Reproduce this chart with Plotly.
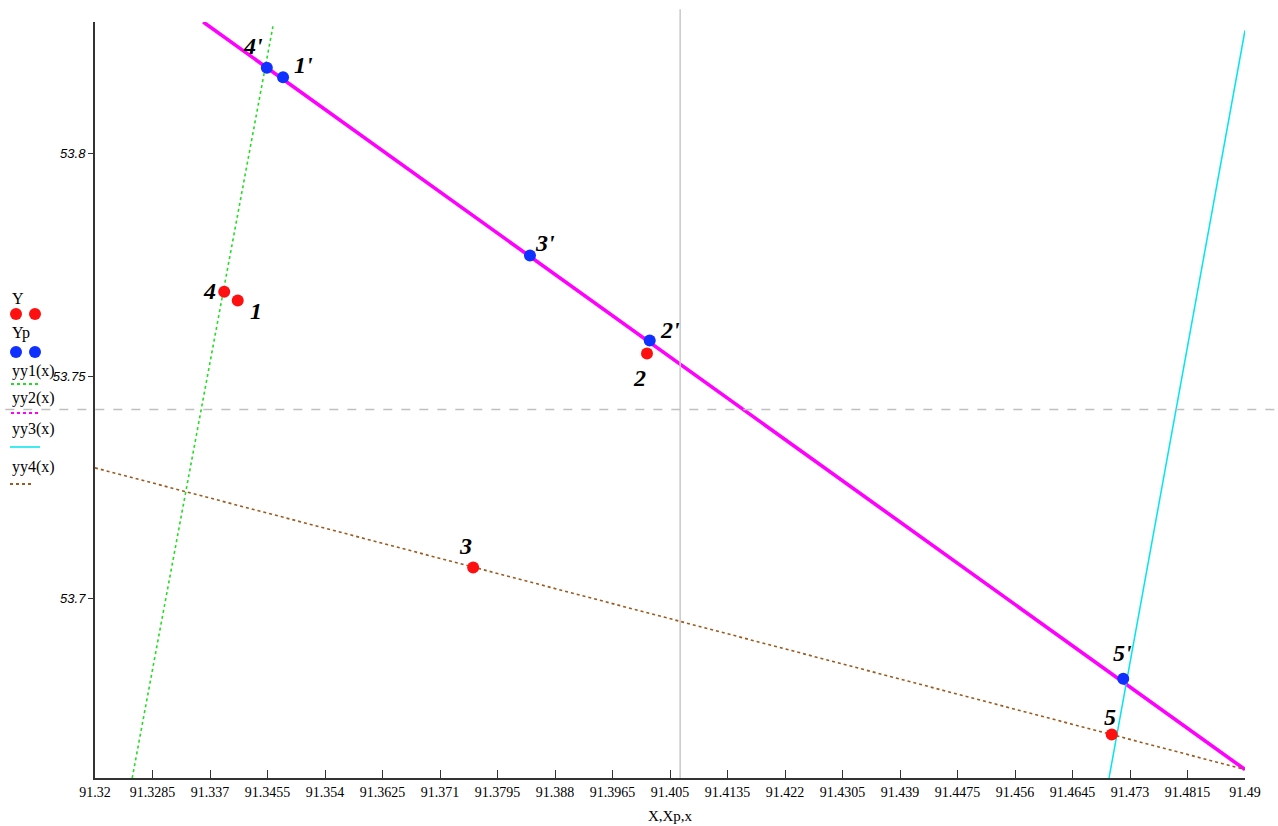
import plotly.graph_objects as go

# ---- data ----
X = [91.3411, 91.4016, 91.3759, 91.3391, 91.4703]      # measured points
Y = [53.7670, 53.7551, 53.7070, 53.7690, 53.6695]
Y_labels = ["1", "2", "3", "4", "5"]

Xp = [91.3478, 91.4020, 91.3843, 91.3454, 91.4720]     # projected points
Yp = [53.8172, 53.7580, 53.7771, 53.8193, 53.6820]
Yp_labels = ["1'", "2'", "3'", "4'", "5'"]

yy1_x = [91.3255, 91.3463]
yy1_y = [53.6597, 53.8286]
yy2_x = [91.3360, 91.4900]
yy2_y = [53.8296, 53.6616]
yy3_x = [91.4699, 91.4900]
yy3_y = [53.6597, 53.8277]
yy4_x = [91.3200, 91.4900]
yy4_y = [53.7294, 53.6616]

marker_x = 91.4065   # vertical marker line
marker_y = 53.7425   # horizontal marker line

x_range = [91.32, 91.49]
y_range = [53.6597, 53.8296]
x_ticks = [91.32, 91.3285, 91.337, 91.3455, 91.354, 91.3625, 91.371, 91.3795,
           91.388, 91.3965, 91.405, 91.4135, 91.422, 91.4305, 91.439, 91.4475,
           91.456, 91.4645, 91.473, 91.4815, 91.49]
y_ticks = [53.7, 53.75, 53.8]

# label offsets (pixels) for point labels
Y_off = [(18, -10), (-8, -24), (-8, 22), (-15, 1), (-2, 17)]
Yp_off = [(20, 12), (20, 11), (15, 13), (-14, 22), (-1, 26)]

fig = go.Figure()
fig.add_trace(go.Scatter(x=yy1_x, y=yy1_y, mode="lines",
                         line=dict(color="#22dd22", width=1.6, dash="dot")))
fig.add_trace(go.Scatter(x=yy2_x, y=yy2_y, mode="lines",
                         line=dict(color="#ff00ff", width=3.6)))
fig.add_trace(go.Scatter(x=yy3_x, y=yy3_y, mode="lines",
                         line=dict(color="#00e5ee", width=1.5)))
fig.add_trace(go.Scatter(x=yy4_x, y=yy4_y, mode="lines",
                         line=dict(color="#9c5a1e", width=1.6, dash="dot")))
fig.add_trace(go.Scatter(x=X, y=Y, mode="markers",
                         marker=dict(color="#ff1010", size=12)))
fig.add_trace(go.Scatter(x=Xp, y=Yp, mode="markers",
                         marker=dict(color="#1030ff", size=12)))

lab_font = dict(family="Liberation Serif", size=24, color="black",
                weight="bold", style="italic")
for xs, ys, labs, offs in [(X, Y, Y_labels, Y_off), (Xp, Yp, Yp_labels, Yp_off)]:
    for xv, yv, t, (dx, dy) in zip(xs, ys, labs, offs):
        fig.add_annotation(x=xv, y=yv, text=t, showarrow=False, font=lab_font,
                           xshift=dx, yshift=dy)

# marker (crosshair) lines
fig.add_shape(type="line", xref="x", yref="paper", x0=marker_x, x1=marker_x,
              y0=0, y1=1.017, line=dict(color="#c8c8c8", width=1.5))
my = (marker_y - y_range[0]) / (y_range[1] - y_range[0])
fig.add_shape(type="line", xref="paper", yref="paper", x0=-0.078, x1=1.03,
              y0=my, y1=my, line=dict(color="#c0c0c0", width=1.5, dash="dash"))

# custom legend at the left
W, H = 1278, 826
L, R, T, B = 95, 33, 22, 48
pw, ph = W - L - R, H - T - B


def px(xp):
    return (xp - L) / pw


def py(yp):
    return (H - B - yp) / ph


leg_font = dict(family="Liberation Serif", size=16, color="black")
leg_items = [("Y", 298), ("Yp", 333), ("yy1(x)", 371), ("yy2(x)", 398),
             ("yy3(x)", 429), ("yy4(x)", 467)]
for t, yp in leg_items:
    fig.add_annotation(xref="paper", yref="paper", x=px(10), y=py(yp), text=t,
                       showarrow=False, xanchor="left", yanchor="middle", font=leg_font)
for cx, cy, col in [(16, 314, "#ff1010"), (35, 314, "#ff1010"),
                    (16, 352, "#1030ff"), (35, 352, "#1030ff")]:
    fig.add_shape(type="circle", xref="paper", yref="paper",
                  x0=px(cx - 6), x1=px(cx + 6), y0=py(cy + 6), y1=py(cy - 6),
                  fillcolor=col, line=dict(width=0))
fig.add_shape(type="line", xref="paper", yref="paper", x0=px(11), x1=px(40),
              y0=py(384), y1=py(384), line=dict(color="#22dd22", width=2, dash="dot"))
fig.add_shape(type="line", xref="paper", yref="paper", x0=px(11), x1=px(40),
              y0=py(413), y1=py(413), line=dict(color="#ff00ff", width=2, dash="dot"))
fig.add_shape(type="line", xref="paper", yref="paper", x0=px(10), x1=px(40),
              y0=py(447), y1=py(447), line=dict(color="#00e5ee", width=1.5))
fig.add_shape(type="line", xref="paper", yref="paper", x0=px(10), x1=px(34),
              y0=py(484), y1=py(484), line=dict(color="#9c5a1e", width=2, dash="dot"))

fig.update_layout(
    width=W, height=H,
    margin=dict(l=L, r=R, t=T, b=B, pad=0),
    paper_bgcolor="white", plot_bgcolor="white",
    showlegend=False,
    xaxis=dict(range=x_range, tickvals=x_ticks, ticktext=[f"{v:g}" for v in x_ticks],
               showgrid=False, zeroline=False, showline=True, linecolor="#333333",
               linewidth=2, ticks="inside", ticklen=8, tickcolor="#333333",
               automargin=False,
               tickfont=dict(family="Liberation Serif", size=14, color="black"),
               title=dict(text="X,Xp,x", standoff=12,
                          font=dict(family="Liberation Serif", size=15, color="black"))),
    yaxis=dict(range=y_range, tickvals=y_ticks, ticktext=[f"{v:g}" for v in y_ticks],
               showgrid=False, zeroline=False, showline=True, linecolor="#333333",
               linewidth=2, ticks="outside", ticklen=5, tickcolor="#333333",
               automargin=False,
               tickfont=dict(family="Liberation Sans Narrow, Liberation Sans", size=13,
                             color="black", style="italic")),
)

fig.write_html("out.html")
